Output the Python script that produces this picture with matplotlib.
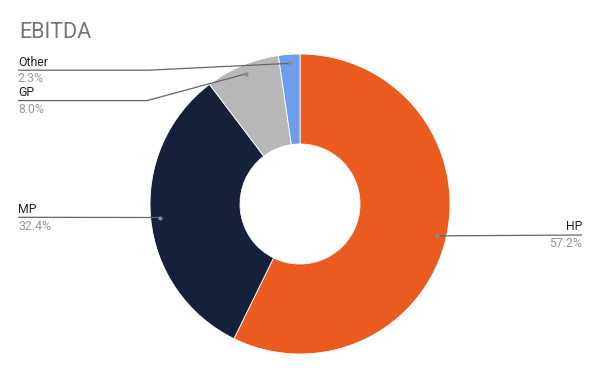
import numpy as np
import matplotlib
matplotlib.use('Agg')
import matplotlib.pyplot as plt

# EBITDA split by segment
segments = ['HP', 'MP', 'GP', 'Other']
shares = [57.2, 32.4, 8.0, 2.3]
share_labels = ['57.2%', '32.4%', '8.0%', '2.3%']
colors = ['#EB5A1E', '#16203B', '#B7B7B7', '#6D9EEB']

plt.rcParams['font.family'] = ['Roboto', 'DejaVu Sans']

W, H = 600, 371
fig = plt.figure(figsize=(W / 100, H / 100), dpi=100)
ax = fig.add_axes([0, 0, 1, 1])


def py(y):
    # pixel row (from top) -> data y
    return H - y


cx, cy, r_out, r_in = 300, py(204), 150, 60
wedges, _ = ax.pie(shares, colors=colors, startangle=90, counterclock=False,
                   radius=r_out, center=(cx, cy), frame=True,
                   wedgeprops=dict(width=r_out - r_in, edgecolor='white', linewidth=0.6))
ax.set_xlim(0, W)
ax.set_ylim(0, H)
ax.set_aspect('equal')
ax.axis('off')

ax.text(19, py(38.5), 'EBITDA', fontsize=15.5, color='#757575', va='baseline', ha='left')

# leader line layout: (label side x, line row, elbow x or None)
layout = {
    'HP': (582, 235, None),
    'MP': (18, 217.3, None),
    'GP': (18, 100.6, 147),
    'Other': (18, 70.2, 148),
}

line_col = '#666666'
for w, name, pct in zip(wedges, segments, share_labels):
    mid = np.deg2rad((w.theta1 + w.theta2) / 2)
    dx = cx + 141 * np.cos(mid)
    dy = cy + 141 * np.sin(mid)
    lx, ly, elbow = layout[name]
    if elbow is None:
        xs, ys = [dx, lx], [dy, py(ly)]
    else:
        xs, ys = [dx, elbow, lx], [dy, py(ly), py(ly)]
    ax.plot(xs, ys, color=line_col, lw=0.9, solid_capstyle='butt')
    ax.plot(dx, dy, 'o', color='#8a8a8a', ms=3, mec='none')
    ha = 'right' if lx > cx else 'left'
    ax.text(lx, py(ly - 4.5), name, fontsize=8.8, color='#222222', ha=ha, va='baseline')
    ax.text(lx, py(ly + 12.3), pct, fontsize=8.8, color='#999999', ha=ha, va='baseline')

fig.savefig('out.png', dpi=100)
